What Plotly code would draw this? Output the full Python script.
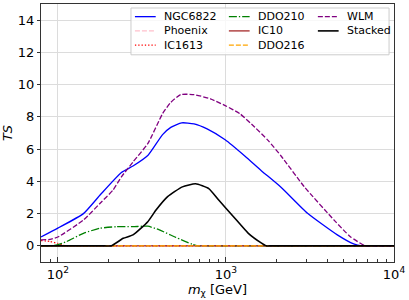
import plotly.graph_objects as go

# ---- data ----
ngc6822_m = [79.4, 100, 142, 180, 239, 280, 343, 420, 470, 546, 646, 773, 990, 1300, 1630, 2135, 3060, 4600, 5750, 6450, 6900, 10000]
ngc6822_ts = [0.55, 1.1, 2.0, 3.2, 4.55, 4.95, 5.6, 6.9, 7.35, 7.63, 7.57, 7.26, 6.58, 5.56, 4.65, 3.62, 2.02, 0.68, 0.12, 0.0, 0.0, 0.0]

phoenix_m = [79.4, 10000]
phoenix_ts = [0.0, 0.0]

ic1613_m = [79.4, 90, 100, 108, 115, 125, 10000]
ic1613_ts = [0.33, 0.27, 0.15, 0.03, 0.0, 0.0, 0.0]

ddo210_m = [79.4, 90, 99, 113, 142, 178, 223, 280, 343, 402, 503, 631, 690, 740, 10000]
ddo210_ts = [0.0, 0.0, 0.06, 0.27, 0.78, 1.09, 1.19, 1.19, 1.22, 0.99, 0.53, 0.1, 0.0, 0.0, 0.0]

ic10_m = [79.4, 10000]
ic10_ts = [0.0, 0.0]

ddo216_m = [79.4, 10000]
ddo216_ts = [0.0, 0.0]

wlm_m = [79.4, 90, 100, 142, 178, 213, 239, 280, 343, 420, 470, 538, 646, 809, 990, 1214, 1486, 1782, 2135, 2930, 4400, 5500, 6740, 7200, 10000]
wlm_ts = [0.37, 0.4, 0.55, 1.6, 2.63, 3.46, 4.28, 5.2, 6.34, 8.2, 8.9, 9.38, 9.38, 9.12, 8.7, 8.19, 7.36, 6.54, 5.56, 3.66, 1.6, 0.57, 0.0, 0.0, 0.0]

stacked_m = [79.4, 190, 208, 245, 280, 343, 384, 450, 551, 660, 791, 906, 1110, 1360, 1630, 1742, 1850, 10000]
stacked_ts = [0.0, 0.0, 0.0, 0.47, 0.68, 1.5, 2.22, 3.05, 3.66, 3.85, 3.55, 2.84, 1.81, 0.78, 0.17, 0.0, 0.0, 0.0]

y_ticks = [0, 2, 4, 6, 8, 10, 12, 14]
x_ticks = [100, 1000, 10000]
x_ticktext = ["10<sup>2</sup>", "10<sup>3</sup>", "10<sup>4</sup>"]
x_minor = [80, 90] + [k * 100 for k in range(2, 10)] + [k * 1000 for k in range(2, 10)]

LW = 1.3
styles = {
    "NGC6822": dict(color="blue", dash="solid"),
    "Phoenix": dict(color="pink", dash="5px,2px"),
    "IC1613": dict(color="red", dash="1.3px,2px"),
    "DDO210": dict(color="green", dash="8px,2px,1.3px,2px"),
    "IC10": dict(color="brown", dash="solid"),
    "DDO216": dict(color="orange", dash="5px,2px"),
    "WLM": dict(color="purple", dash="5px,2px"),
    "Stacked": dict(color="black", dash="solid"),
}
series = [
    ("NGC6822", ngc6822_m, ngc6822_ts),
    ("Phoenix", phoenix_m, phoenix_ts),
    ("IC1613", ic1613_m, ic1613_ts),
    ("DDO210", ddo210_m, ddo210_ts),
    ("IC10", ic10_m, ic10_ts),
    ("DDO216", ddo216_m, ddo216_ts),
    ("WLM", wlm_m, wlm_ts),
    ("Stacked", stacked_m, stacked_ts),
]

fig = go.Figure()
for name, m, ts in series:
    st = styles[name]
    fig.add_trace(go.Scatter(
        x=m, y=ts, mode="lines", name=name, showlegend=False,
        line=dict(color=st["color"], dash=st["dash"], width=(1.6 if name == "Stacked" else LW),
                  shape="spline", smoothing=0.5),
    ))

# ---- plot area geometry (pixels) ----
W, H = 409, 300
L, R, T, B = 37, 394, 3, 262

def px(xp):
    return (xp - L) / (R - L)

def py(yp):
    return (B - yp) / (B - T)

# ---- legend (3 columns, column-major like the reference) ----
legend_cols = [["NGC6822", "Phoenix", "IC1613"], ["DDO210", "IC10", "DDO216"], ["WLM", "Stacked"]]
col_x = [132, 227, 317]
row_y = [15.7, 30, 44.3]
sym_len = 21
shapes = [dict(type="rect", xref="paper", yref="paper",
               x0=px(128), x1=px(389), y0=py(54), y1=py(7),
               line=dict(color="#cccccc", width=1), fillcolor="rgba(255,255,255,0.8)", layer="above")]
annotations = []
for ci, col in enumerate(legend_cols):
    for ri, name in enumerate(col):
        st = styles[name]
        shapes.append(dict(type="line", xref="paper", yref="paper",
                           x0=px(col_x[ci]), x1=px(col_x[ci] + sym_len),
                           y0=py(row_y[ri]), y1=py(row_y[ri]),
                           line=dict(color=st["color"], dash=st["dash"], width=(1.6 if name == "Stacked" else LW)),
                           layer="above"))
        annotations.append(dict(xref="paper", yref="paper", x=px(col_x[ci] + sym_len + 6), y=py(row_y[ri]),
                                text=name, showarrow=False, xanchor="left", yanchor="middle",
                                font=dict(size=11, color="black")))

fig.update_layout(
    width=W, height=H,
    margin=dict(l=L, r=W - R, t=T, b=H - B),
    paper_bgcolor="white", plot_bgcolor="white",
    font=dict(family="DejaVu Sans", size=13, color="black"),
    shapes=shapes, annotations=annotations,
    showlegend=False,
)
fig.update_xaxes(
    type="log", range=[1.9, 4.0],
    tickvals=x_ticks, ticktext=x_ticktext, ticks="inside", ticklen=5, tickcolor="#333333",
    minor=dict(tickvals=x_minor, ticks="inside", ticklen=3, tickcolor="#333333", showgrid=False),
    showgrid=True, gridcolor="#dcdcdc", gridwidth=1,
    showline=True, linecolor="#333333", linewidth=1, mirror=True, zeroline=False,
    title=dict(text="<i>m</i><sub>χ</sub> [GeV]", font=dict(size=13), standoff=0),
    tickfont=dict(size=13),
)
fig.update_yaxes(
    range=[-1, 15], tickvals=y_ticks, ticks="outside", ticklen=3, tickcolor="#333333",
    showgrid=True, gridcolor="#dcdcdc", gridwidth=1,
    showline=True, linecolor="#333333", linewidth=1, mirror=True, zeroline=False,
    title=dict(text="<i>TS</i>", font=dict(size=13), standoff=6),
    tickfont=dict(size=13),
)

fig.write_html("out.html", config={"displayModeBar": False},
               post_script="document.body.style.margin='0';document.body.style.overflow='hidden';")
